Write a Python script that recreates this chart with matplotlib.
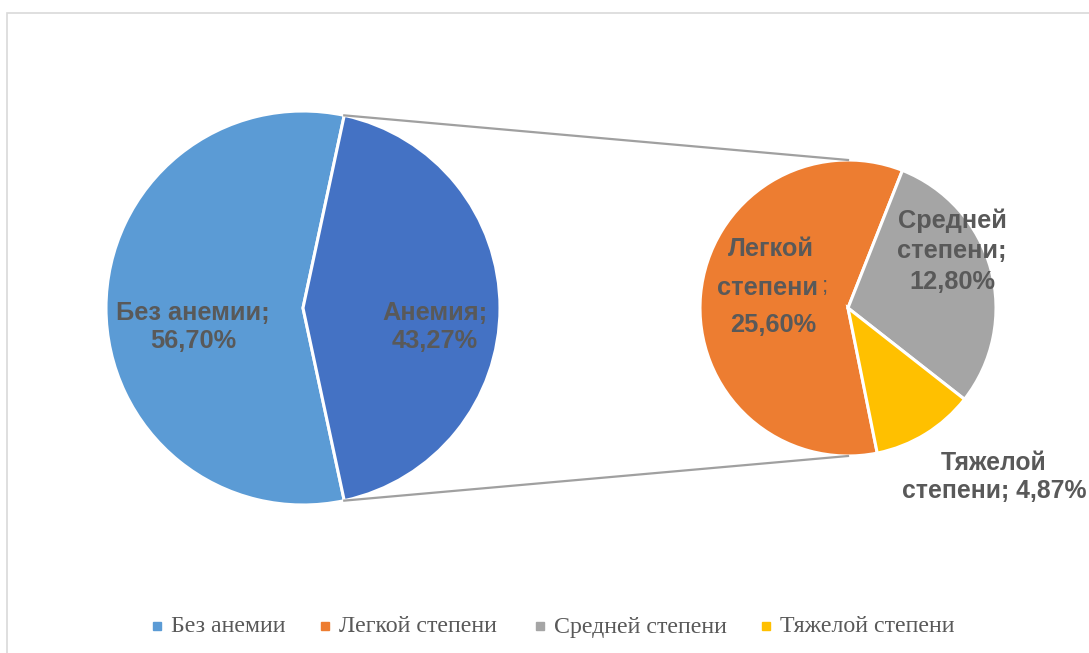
import numpy as np
import matplotlib.pyplot as plt
from matplotlib.patches import Rectangle

# main pie
main_labels = ["Без анемии", "Анемия"]
main_values = [56.70, 43.27]
main_colors = ["#5B9BD5", "#4472C4"]

# breakdown of anemia by severity
sub_labels = ["Легкой степени", "Средней степени", "Тяжелой степени"]
sub_values = [25.60, 12.80, 4.87]
sub_colors = ["#ED7D31", "#A5A5A5", "#FFC000"]

W, H = 1089, 653
fig = plt.figure(figsize=(W / 100, H / 100), dpi=100)
ax = fig.add_axes([0, 0, 1, 1])

lab_family = ["Liberation Sans", "DejaVu Sans"]
lab_font = dict(family=lab_family, fontsize=18.3,
                fontweight="bold", color="#595959")
leg_font = ["Liberation Serif", "DejaVu Serif"]

# pixel layout (y measured from top)
c1, r1 = (303, 308), 197
c2, r2 = (848, 308), 148

def py(y):
    return H - y

# left pie: anemia slice centred on the right side
half = 360 * main_values[1] / sum(main_values) / 2
ax.pie(main_values, colors=main_colors, center=(c1[0], py(c1[1])), radius=r1,
       startangle=half, counterclock=True,
       wedgeprops=dict(edgecolor="white", linewidth=2.2))

# right pie, clockwise from the lower edge
ax.pie(sub_values, colors=sub_colors, center=(c2[0], py(c2[1])), radius=r2,
       startangle=-78.6, counterclock=False,
       wedgeprops=dict(edgecolor="white", linewidth=2.2))

# connector lines between the pies
a = np.deg2rad(half)
p_top = (c1[0] + r1 * np.cos(a), py(c1[1]) + r1 * np.sin(a))
p_bot = (c1[0] + r1 * np.cos(a), py(c1[1]) - r1 * np.sin(a))
ax.plot([p_top[0], c2[0]], [p_top[1], py(c2[1]) + r2], color="#A0A0A0", lw=1.6)
ax.plot([p_bot[0], c2[0]], [p_bot[1], py(c2[1]) - r2], color="#A0A0A0", lw=1.6)

# data labels
ax.text(193, py(327), "Без анемии;\n56,70%", ha="center", va="center",
        linespacing=1.25, **lab_font)
ax.text(435, py(327), "Анемия;\n43,27%", ha="center", va="center",
        linespacing=1.25, **lab_font)
ax.text(771, py(249), "Легкой", ha="center", va="center", **lab_font)
t = ax.text(768, py(288), "степени", ha="center", va="center", **lab_font)
ax.annotate(";", xy=(1, 0), xycoords=t, xytext=(2.5, 2), textcoords="offset points",
            ha="left", va="bottom", family=lab_family,
            fontsize=16, color="#595959")
ax.text(773, py(325), "25,60%", ha="center", va="center", **lab_font)
ax.text(952, py(251), "Средней\nстепени;\n12,80%", ha="center", va="center",
        linespacing=1.35, **lab_font)
ax.text(994, py(477), "Тяжелой\nстепени; 4,87%", ha="center", va="center",
        linespacing=1.25, family=lab_family, fontsize=17.8,
        fontweight="bold", color="#595959")

# legend row
leg_names = [main_labels[0]] + sub_labels
leg_cols = [main_colors[0]] + sub_colors
leg_x = [157, 325, 540, 766]
for x, name, col in zip(leg_x, leg_names, leg_cols):
    ax.add_patch(Rectangle((x - 4, py(626) - 4), 8, 8, color=col))
    ax.text(x + 14, py(627), name, ha="left", va="center", family=leg_font,
            fontsize=17.2, color="#595959")

# chart area border
ax.add_patch(Rectangle((7, -20), W + 20, py(13) + 20, fill=False,
                       edgecolor="#D9D9D9", lw=1.2))

ax.set_xlim(0, W)
ax.set_ylim(0, H)
ax.set_aspect("auto")
ax.axis("off")
fig.savefig("out.png", dpi=100)
